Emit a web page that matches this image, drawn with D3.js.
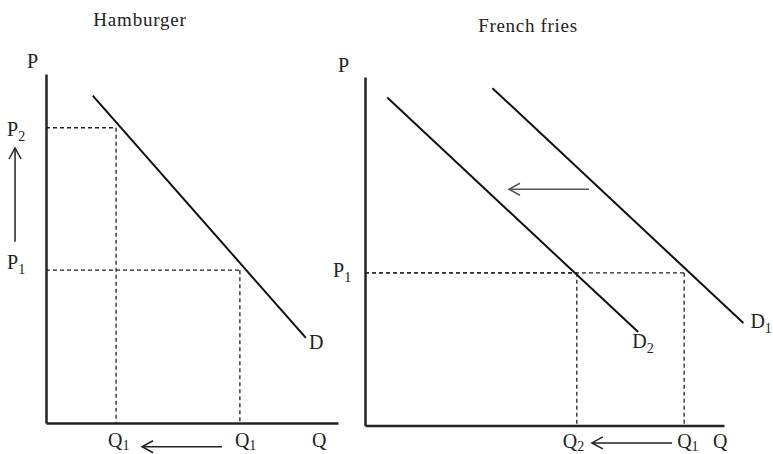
<!DOCTYPE html>
<html>
<head>
<meta charset="utf-8">
<script src="https://cdn.jsdelivr.net/npm/d3@7"></script>
<style>
  body { margin: 0; background: #fff; }
  svg { display: block; }
  text { font-family: "Liberation Serif", "DejaVu Serif", serif; fill: #222; }
</style>
</head>
<body>
<svg id="chart" width="773" height="454"></svg>
<script>
// Two demand diagrams: hamburger price rises, french fries demand shifts left
// Values are in arbitrary axis units (0..10 on both axes)

// Hamburger panel
const hamburgerDemand = [{ q: 1.6, p: 9.38 }, { q: 8.9, p: 2.44 }];
const hamburgerQty = [2.4, 6.64];      // Q1 after, Q1 before
const hamburgerPrice = [8.46, 4.38];   // P2, P1
const hamburgerPriceArrow = [{ q: -1.06, p: 5.19 }, { q: -1.06, p: 7.88 }];
const hamburgerQtyArrow = [{ q: 6.03, p: -0.68 }, { q: 3.29, p: -0.68 }];

// French fries panel
const friesD1 = [{ q: 3.55, p: 9.68 }, { q: 10.54, p: 2.94 }];
const friesD2 = [{ q: 0.62, p: 9.41 }, { q: 7.61, p: 2.68 }];
const friesPrice = 4.38;               // P1
const friesQty = [5.9, 8.89];          // Q2, Q1
const friesShiftArrow = [{ q: 6.24, p: 6.78 }, { q: 4.01, p: 6.78 }];
const friesQtyArrow = [{ q: 8.55, p: -0.5 }, { q: 6.32, p: -0.5 }];

const svg = d3.select("#chart");

// open chevron arrowhead
const defs = svg.append("defs");
[["arrowDark", "#222"], ["arrowGray", "#555"]].forEach(([id, c]) => {
  defs.append("marker")
    .attr("id", id)
    .attr("viewBox", "-14 -8 16 16")
    .attr("refX", 0)
    .attr("refY", 0)
    .attr("markerWidth", 16)
    .attr("markerHeight", 16)
    .attr("markerUnits", "userSpaceOnUse")
    .attr("orient", "auto")
    .append("path")
    .attr("d", "M-11,-6 L0,0 L-11,6")
    .attr("fill", "none")
    .attr("stroke", c)
    .attr("stroke-width", 1.5);
});

function panel(xRange, yRange) {
  const x = d3.scaleLinear().domain([0, 10]).range(xRange);
  const y = d3.scaleLinear().domain([0, 10]).range(yRange);
  const g = svg.append("g");

  g.append("g")
    .attr("transform", `translate(0,${y(0)})`)
    .call(d3.axisBottom(x).tickValues([]).tickSizeOuter(0))
    .call(a => a.select(".domain").attr("stroke", "#222").attr("stroke-width", 2.5));
  g.append("g")
    .attr("transform", `translate(${x(0)},0)`)
    .call(d3.axisLeft(y).tickValues([]).tickSizeOuter(0))
    .call(a => a.select(".domain").attr("stroke", "#222").attr("stroke-width", 2.5));

  const line = d3.line().x(d => x(d.q)).y(d => y(d.p));
  return { x, y, g, line };
}

function curve(pn, data) {
  pn.g.append("path")
    .attr("d", pn.line(data))
    .attr("fill", "none")
    .attr("stroke", "#111")
    .attr("stroke-width", 2);
}

function guide(pn, q, p) {
  const pts = [[{ q: 0, p: p }, { q: q, p: p }], [{ q: q, p: p }, { q: q, p: 0 }]];
  pts.forEach(seg => {
    pn.g.append("path")
      .attr("d", pn.line(seg))
      .attr("fill", "none")
      .attr("stroke", "#222")
      .attr("stroke-width", 1.3)
      .attr("stroke-dasharray", "4,3");
  });
}

function arrow(pn, data, color, marker) {
  pn.g.append("path")
    .attr("d", pn.line(data))
    .attr("fill", "none")
    .attr("stroke", color)
    .attr("stroke-width", 1.5)
    .attr("marker-end", `url(#${marker})`);
}

function label(g, px, py, main, sub, subDy = 5) {
  const t = g.append("text")
    .attr("x", px)
    .attr("y", py)
    .style("font-size", "20px")
    .text(main);
  if (sub) {
    t.append("tspan")
      .attr("dy", subDy)
      .style("font-size", "14px")
      .text(sub);
  }
}

// ---- Hamburger ----
const h = panel([46, 338], [423, 74]);
curve(h, hamburgerDemand);
guide(h, hamburgerQty[0], hamburgerPrice[0]);
guide(h, hamburgerQty[1], hamburgerPrice[1]);
arrow(h, hamburgerPriceArrow, "#222", "arrowDark");
arrow(h, hamburgerQtyArrow, "#222", "arrowDark");

svg.append("text")
  .attr("x", 140)
  .attr("y", 26)
  .attr("text-anchor", "middle")
  .style("font-size", "19px")
  .style("letter-spacing", "0.8px")
  .text("Hamburger");

label(h.g, h.x(0) - 19, h.y(10) - 6, "P");
label(h.g, h.x(0) - 39, h.y(hamburgerPrice[0]) + 8, "P", "2");
label(h.g, h.x(0) - 39, h.y(hamburgerPrice[1]) - 1, "P", "1");
label(h.g, h.x(hamburgerQty[0]) - 8, h.y(0) + 24, "Q", "1", 3);
label(h.g, h.x(hamburgerQty[1]) - 5, h.y(0) + 24, "Q", "1", 3);
label(h.g, h.x(10) - 26, h.y(0) + 24, "Q");
label(h.g, h.x(hamburgerDemand[1].q) + 3, h.y(hamburgerDemand[1].p) + 11, "D");

// ---- French fries ----
const f = panel([365, 724], [425.5, 77]);
curve(f, friesD2);
curve(f, friesD1);
guide(f, friesQty[0], friesPrice);
guide(f, friesQty[1], friesPrice);
arrow(f, friesShiftArrow, "#555", "arrowGray");
arrow(f, friesQtyArrow, "#222", "arrowDark");

svg.append("text")
  .attr("x", 528)
  .attr("y", 32)
  .attr("text-anchor", "middle")
  .style("font-size", "19px")
  .style("letter-spacing", "0.7px")
  .text("French fries");

label(f.g, f.x(0) - 27, f.y(10) - 5, "P");
label(f.g, f.x(0) - 32, f.y(friesPrice) + 4, "P", "1");
label(f.g, f.x(friesQty[0]) - 14, f.y(0) + 22, "Q", "2", 3);
label(f.g, f.x(friesQty[1]) - 7, f.y(0) + 22, "Q", "1", 3);
label(f.g, f.x(10) - 11, f.y(0) + 22, "Q");
label(f.g, f.x(friesD2[1].q) - 6, f.y(friesD2[1].p) + 16, "D", "2");
label(f.g, f.x(friesD1[1].q) + 7, f.y(friesD1[1].p) + 5, "D", "1");
</script>
</body>
</html>
